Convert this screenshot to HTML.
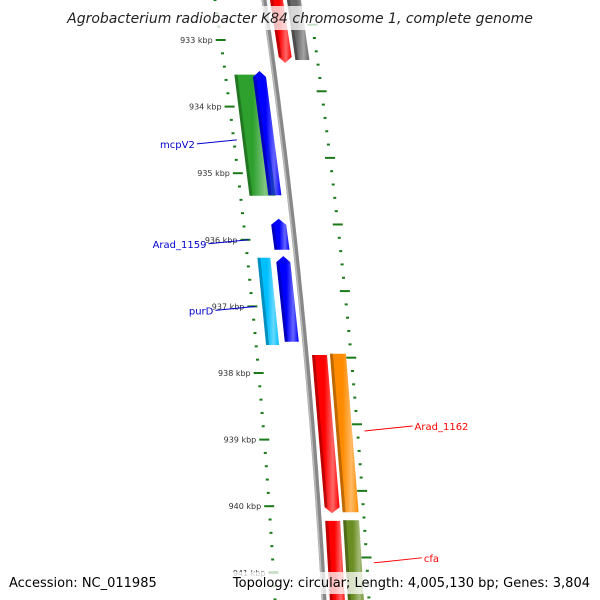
<!DOCTYPE html>
<html><head><meta charset="utf-8"><style>
body{margin:0;background:#fff;width:600px;height:600px;overflow:hidden}
svg{display:block;font-family:"DejaVu Sans","Liberation Sans",sans-serif}
</style></head><body>
<svg id="c" width="600" height="600" viewBox="0 0 600 600">
<defs>
<linearGradient id="gBack" x1="0" x2="1"><stop offset="0" stop-color="#bbb"/><stop offset="0.5" stop-color="#777"/><stop offset="1" stop-color="#999"/></linearGradient>
</defs>
<g id="ticks"></g>
<line id="bb"></line>
<g id="feats"></g>
<g id="labels"></g>
<rect x="68" y="6" width="464" height="24" fill="#fff" opacity="0.75"/>
<text x="300" y="23" text-anchor="middle" font-size="14" font-style="italic" fill="#222">Agrobacterium radiobacter K84 chromosome 1, complete genome</text>
<rect x="0" y="572" width="600" height="22" fill="#fff" opacity="0.75"/>
<text x="9" y="587" font-size="13" fill="#000">Accession: NC_011985</text>
<text x="590" y="587" text-anchor="end" font-size="13" fill="#000">Topology: circular; Length: 4,005,130 bp; Genes: 3,804</text>
</svg>
<script>
const majorKbp=[933,934,935,936,937,938,939,940,941];
const majorLabels=["933 kbp","934 kbp","935 kbp","936 kbp","937 kbp","938 kbp","939 kbp","940 kbp","941 kbp"];
const featStart=[932.3,932.3,933.52,933.48,935.7,936.27,936.26,937.73,937.71,940.22,940.21];
const featEnd=[933.33,933.3,935.34,935.33,936.15,937.58,937.53,940.09,940.09,941.7,941.7];
const featDir=[-1,0,0,1,1,0,1,-1,0,0,0];
const featLaneA=[6,23,-40,-21,-21,-39,-20,6,24,6,24];
const featLaneB=[19,37,-14,-8,-6,-26,-6,21,40,21,40];
const featColors=["#ff0000","#666666","#2ea02e","#0000ff","#0000ff","#00bfff","#0000ff","#ff0000","#ff8c00","#ff0000","#6b8e23"];
const labelText=["mcpV2","Arad_1159","purD","Arad_1162","cfa"];
const labelKbp=[934.5,936.0,937.0,938.87,940.85];
const labelSide=[-1,-1,-1,1,1];
const labelColor=["#0000cc","#0000cc","#0000cc","#ff0000","#ff0000"];

const NS="http://www.w3.org/2000/svg";
function Y(k){return 40+(k-933)*66.6;}
function X(y){return 264+0.145*y-0.000075*y*y;}
function el(t,a,p){const e=document.createElementNS(NS,t);for(const k in a)e.setAttribute(k,a[k]);p.appendChild(e);return e;}
const svg=document.getElementById('c');
const defs=svg.querySelector('defs');
// backbone
const bb=document.getElementById('bb');
const bbp=el('path',{d:'',fill:'none',stroke:'#888','stroke-width':5},svg);


let d='';for(let y=-10;y<=610;y+=10){d+=(y==-10?'M':'L')+X(y).toFixed(1)+','+y;}
bbp.setAttribute('d',d);
svg.insertBefore(bbp,document.getElementById('feats'));
const bbh=el('path',{d:d,fill:'none',stroke:'#bbb','stroke-width':1.5,transform:'translate(-1.5,0)'},svg);


svg.insertBefore(bbh,document.getElementById('feats'));
// ticks
const tg=document.getElementById('ticks');
for(let k=932;k<=942;k+=0.2){
  const kk=Math.round(k*10)/10;
  const isMaj=Math.abs(kk-Math.round(kk))<0.01;
  const y=Y(kk);
  if(y>-5&&y<605){
    const x=X(y)-49;
    const t=el('rect',{x:x-(isMaj?5:1.5),y:y-1,width:isMaj?10:3,height:2,fill:'#1a7a1a'},tg);
    
    
  }
  const y2=Y(kk+0.77);
  if(y2>-5&&y2<605){
    const x2=X(y2)+45;
    const t2=el('rect',{x:x2-(isMaj?5:1.5),y:y2-1,width:isMaj?10:3,height:2,fill:'#1a7a1a'},tg);
    
    
  }
}
majorKbp.forEach((k,i)=>{
  const y=Y(k);
  const t=el('text',{x:X(y)-57,y:y+3,'text-anchor':'end','font-size':8,fill:'#333'},tg);
  t.textContent=majorLabels[i];
  
  
});
// features
const fg=document.getElementById('feats');
featStart.forEach((s,i)=>{
  const y1=Y(s),y2=Y(featEnd[i]);
  const a=featLaneA[i],b=featLaneB[i],c=featColors[i];
  const gid='fg'+i;
  const lg=el('linearGradient',{id:gid,x1:0,x2:1},defs);
  el('stop',{offset:0,'stop-color':c,'stop-opacity':1},lg);
  el('stop',{offset:0.45,'stop-color':c},lg);
  el('stop',{offset:0.75,'stop-color':c,'stop-opacity':0.6},lg);
  el('stop',{offset:1,'stop-color':c},lg);
  const xa1=X(y1)+a,xb1=X(y1)+b,xa2=X(y2)+a,xb2=X(y2)+b,ah=5;
  let pts;
  if(featDir[i]==1){const m=(xa1+xb1)/2;pts=[[xa1,y1+ah],[m,y1-1],[xb1,y1+ah],[xb2,y2],[xa2,y2]];}
  else if(featDir[i]==-1){const m=(xa2+xb2)/2;pts=[[xa1,y1],[xb1,y1],[xb2,y2-ah],[m,y2+1],[xa2,y2-ah]];}
  else pts=[[xa1,y1],[xb1,y1],[xb2,y2],[xa2,y2]];
  const p=el('polygon',{points:pts.map(q=>q[0].toFixed(1)+','+q[1].toFixed(1)).join(' '),fill:'url(#'+gid+')'},fg);
  
  
  const sh=el('polygon',{points:[[xa1,y1+(featDir[i]==1?ah:0)],[xa1+3,y1+(featDir[i]==1?ah:0)],[xa2+3,y2-(featDir[i]==-1?ah:0)],[xa2,y2-(featDir[i]==-1?ah:0)]].map(q=>q.join(',')).join(' '),fill:'#000',opacity:0.25},fg);
  
  
});
// labels
const lgp=document.getElementById('labels');
labelText.forEach((t,i)=>{
  const y=Y(labelKbp[i]);
  const side=labelSide[i];
  const x0=X(y)+(side<0?-46:52);
  const x1=side<0?x0-40:x0+48;
  const y1=y+(side<0?4:-5);
  const ln=el('line',{x1:x0,y1:y,x2:x1,y2:y1,stroke:labelColor[i],'stroke-width':1},lgp);
  
  
  const tx=el('text',{x:side<0?x1-2:x1+2,y:y1+4,'text-anchor':side<0?'end':'start','font-size':10,fill:labelColor[i]},lgp);
  tx.textContent=t;
  
  
});
</script>
</body></html>
